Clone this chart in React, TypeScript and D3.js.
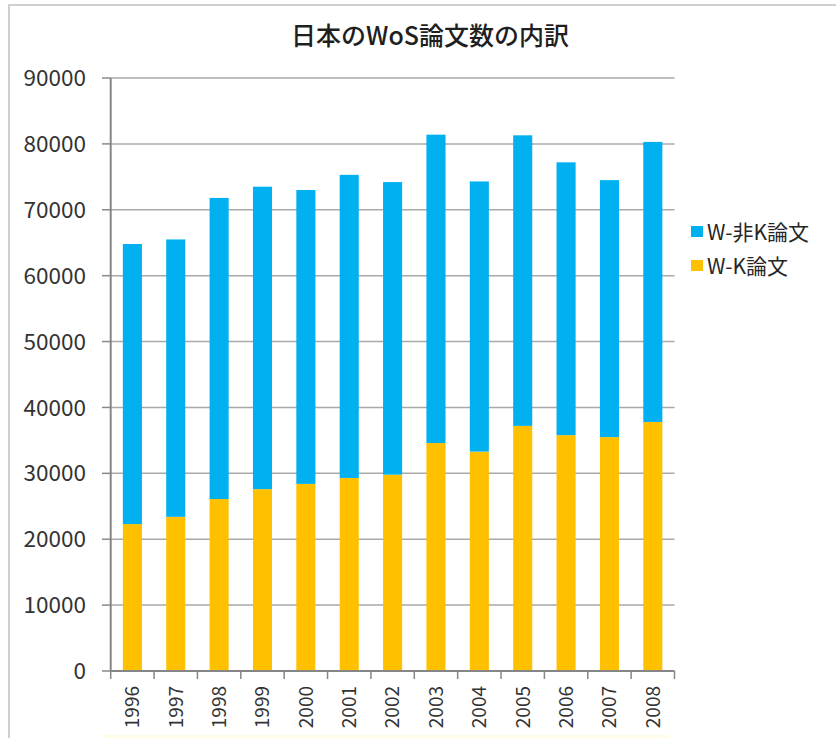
import React from 'react'
import * as d3 from 'd3'

const years = ['1996', '1997', '1998', '1999', '2000', '2001', '2002', '2003', '2004', '2005', '2006', '2007', '2008']
// W-K論文 (yellow, bottom)
const wkValues = [22300, 23400, 26100, 27600, 28400, 29300, 29800, 34600, 33300, 37200, 35800, 35500, 37800]
// W-非K論文 (blue, stacked on top)
const nonKValues = [42500, 42100, 45700, 45900, 44600, 46000, 44400, 46800, 41000, 44100, 41400, 39000, 42500]
const yTicks = [0, 10000, 20000, 30000, 40000, 50000, 60000, 70000, 80000, 90000]
const seriesNames = ['W-K論文', 'W-非K論文']
const legendOrder = ['W-非K論文', 'W-K論文']
const colors: Record<string, string> = { 'W-K論文': '#FFC000', 'W-非K論文': '#00B0F0' }

const W = 836
const H = 738
const left = 110.7
const right = 674.5
const top = 78
const bottom = 671
const font = '"Noto Sans CJK JP", "Noto Sans", sans-serif'

const App = () => {
  const rows = years.map((yr, i) => ({ year: yr, 'W-K論文': wkValues[i], 'W-非K論文': nonKValues[i] }))
  const stacked = d3.stack<any>().keys(seriesNames)(rows)

  const x = d3.scaleBand().domain(years).range([left, right]).paddingInner(0.56).paddingOuter(0.28)
  const y = d3.scaleLinear().domain([0, 90000]).range([bottom, top])
  const step = x.step()
  const bounds = d3.range(years.length + 1).map((i) => left + i * step)

  return (
    <svg width={W} height={H} style={{ position: 'absolute', left: 0, top: 0, background: '#fff' }} fontFamily={font}>
      {/* chart frame */}
      <path d={`M9,${H} L9,5 L${W},5`} fill="none" stroke="#cfcfcf" strokeWidth={2} />
      <rect x={104} y={735} width={565} height={3} fill="#fffde6" />

      <text x={430} y={45} textAnchor="middle" fontSize={25} fontWeight={500} fill="#1f1f1f">
        日本のWoS論文数の内訳
      </text>

      {/* grid + y axis */}
      {yTicks.map((t) => (
        <g key={t}>
          {t > 0 && <line x1={left} x2={right} y1={y(t)} y2={y(t)} stroke="#a9a9a9" strokeWidth={1.5} />}
          <line x1={102} x2={left} y1={y(t)} y2={y(t)} stroke="#8a8a8a" strokeWidth={1.5} />
          <text x={86} y={y(t)} dy="0.36em" textAnchor="end" fontSize={22.5} fill="#333">
            {t}
          </text>
        </g>
      ))}

      {/* bars */}
      {stacked.map((s) => (
        <g key={s.key} fill={colors[s.key]}>
          {s.map((d, i) => (
            <rect key={i} x={x(years[i])} width={x.bandwidth()} y={y(d[1])} height={y(d[0]) - y(d[1])} />
          ))}
        </g>
      ))}

      {/* axes lines */}
      <line x1={left} x2={left} y1={top} y2={bottom} stroke="#868686" strokeWidth={2} />
      <line x1={left} x2={right} y1={bottom} y2={bottom} stroke="#868686" strokeWidth={2} />
      {bounds.map((b, i) => (
        <line key={i} x1={b} x2={b} y1={bottom} y2={bottom + 8} stroke="#868686" strokeWidth={1.5} />
      ))}
      {years.map((yr) => {
        const cx = (x(yr) as number) + x.bandwidth() / 2
        return (
          <text key={yr} transform={`translate(${cx},686) rotate(-90)`} textAnchor="end" dy="0.36em" fontSize={19} fill="#333">
            {yr}
          </text>
        )
      })}

      {/* legend */}
      {legendOrder.map((k, i) => (
        <g key={k} transform={`translate(691,${232 + i * 34})`}>
          <rect x={0} y={-6} width={12} height={11} fill={colors[k]} />
          <text x={16} y={0} dy="0.36em" fontSize={21} fill="#262626">
            {k}
          </text>
        </g>
      ))}
    </svg>
  )
}

export default App
